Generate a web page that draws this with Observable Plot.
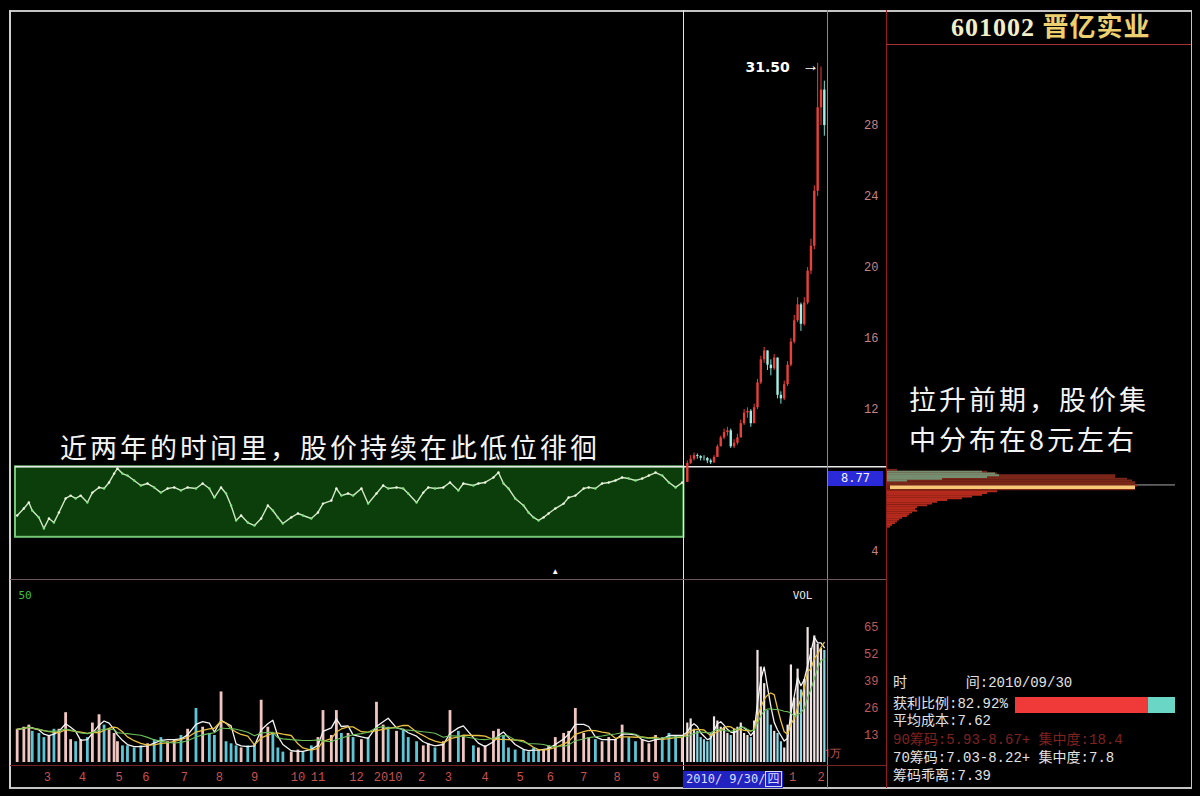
<!DOCTYPE html>
<html><head><meta charset="utf-8">
<script src="https://cdn.jsdelivr.net/npm/d3@7"></script>
<script src="https://cdn.jsdelivr.net/npm/@observablehq/plot@0.6"></script>
<style>
html,body{margin:0;padding:0;background:#000;}
#wrap{position:relative;width:1200px;height:796px;background:#000;overflow:hidden;font-family:"Noto Sans CJK SC",sans-serif;}
#wrap svg{position:absolute;left:0;top:0;}
.ln{position:absolute;}
.txt{position:absolute;white-space:pre;line-height:1;}
.ann{color:#f4f4f4;font-size:27px;letter-spacing:3px;font-family:"Noto Sans CJK SC",sans-serif;}
.info{font-family:"Liberation Mono","Noto Sans CJK SC",monospace;font-size:14px;color:#e2e2e2;left:893px;}
</style></head><body><div id="wrap"></div>
<script>
// ---------- data ----------
const leftDay = [1,5,8,10,14,17,20,23,26,30,33,36,39,43,46,50,53,56,59,61,64,67,71,75,79,83,87,91,95,99,103,108,112,116,119,123,126,129,132,135,139,143,147,151,154,157,160,165,169,172,177,181,184,189,192,195,199,
202,207,211,216,220,223,228,232,235,240,244,247,251,256,260,265,268,274,277,281,286,289,292,295,299,304,307,310,313,316,319,323,328,331,335,340,343,347,351,355,359,363,367,371,375,379,383,387,391,395,399];
const leftClose = [6.03,6.42,6.76,6.31,5.92,5.30,5.86,5.63,6.20,6.99,7.15,6.99,7.15,6.76,7.32,7.61,7.55,7.89,8.39,8.68,8.39,8.28,8.00,7.72,7.83,7.61,7.32,7.55,7.61,7.44,7.61,7.55,7.83,7.55,7.04,7.61,7.27,6.59,5.75,6.03,5.63,5.46,5.86,6.59,6.31,5.92,5.58,5.92,6.14,6.03,5.86,6.20,6.70,6.87,7.55,7.15,7.27,
7.15,7.55,6.70,7.27,7.72,7.55,7.61,7.55,7.27,6.76,7.32,7.61,7.55,7.61,7.89,7.44,7.83,7.72,7.83,7.89,8.17,8.45,7.83,7.55,6.99,6.59,6.20,5.92,5.75,5.92,6.14,6.42,6.70,7.04,7.15,7.55,7.61,7.55,7.83,7.89,8.00,8.17,8.11,8.00,8.11,8.28,8.45,8.28,7.89,7.61,7.89];
const leftVol = [16,17,18,15,14,12,13,16,16,24,11,10,11,12,19,23,18,16,14,10,8,8,7,8,9,11,12,10,11,13,16,26,17,14,13,34,10,9,8,7,8,9,30,17,14,7,5,5,6,5,8,12,25,13,25,14,14,
12,11,12,29,18,17,15,16,12,10,8,9,7,10,25,15,13,8,7,8,15,16,13,7,6,6,5,7,6,6,8,12,14,15,26,14,12,11,10,12,11,18,12,10,11,9,13,12,14,13,12];

const rallyDay = [402,404,406,408,410,412,414,416,418,420,422,424,426,428,430,432,434,436,438,440,442,444,446,448,450,452,454,456,458,460,462,464,466,468,470,472,474,476,478,480,482,484];
const rallyClose = [8.96,9.2,9.4,9.35,9.25,9.24,9.1,9.0,9.3,9.9,10.4,10.7,10.8,9.9,10.1,10.4,11.2,11.8,11.9,11.2,12.1,13.5,14.8,15.3,14.5,14.3,14.9,12.8,12.6,13.4,14.5,15.8,17.0,17.9,16.8,18.0,19.8,21.2,24.3,29.0,30.0,28.0];
const rallyHigh = [9.1,9.4,9.55,9.5,9.4,9.4,9.3,9.2,9.4,10.0,10.5,10.9,11.0,10.9,10.3,10.6,11.4,12.0,12.1,12.0,12.3,13.7,15.0,15.5,15.3,14.8,15.1,14.9,13.0,13.6,14.7,16.0,17.3,18.3,18.0,18.3,20.0,21.6,24.6,31.5,31.3,30.5];
const rallyLow = [8.6,8.9,9.1,9.2,9.1,9.1,8.95,8.9,8.95,9.3,9.9,10.3,10.5,9.8,9.8,10.0,10.4,11.1,11.5,11.0,11.2,12.0,13.4,14.6,14.2,13.9,14.2,12.6,12.3,12.5,13.3,14.4,15.7,16.9,16.4,16.7,17.9,19.6,21.0,24.0,28.0,27.4];
const rallyVol = [19,21,16,15,12,11,10,14,22,20,17,17,14,13,16,17,19,14,13,12,20,54,46,38,25,18,15,14,10,7,18,47,31,45,35,40,65,55,61,57,55,54];

const monthLabels = ["3","4","5","6","7","8","9","10","11","12","2010","2","3","4","5","6","7","8","9","1","2"];
const monthDays = [19,40,62,78,101,122,143,169,181,204,223,243,259,281,302,320,340,360,383,465,482];
const priceTicks = [4,12,16,20,24,28];
const volTicks = [13,26,39,52,65];

const lastPrice = 8.77;          // price line / label
const selectedDay = 400;         // 2010/09/30
const boxTop = 8.77, boxBottom = 4.8, boxStart = 0, boxEnd = 400;

const chipPrice = [8.6,8.5,8.4,8.3,8.2,8.1,8.0,7.9,7.8,7.7,7.6,7.5,7.4,7.3,7.2,7.1,7.0,6.9,6.8,6.7,6.6,6.5,6.4,6.3,6.2,6.1,6.0,5.9,5.8,5.7,5.6,5.5,5.4];
const chipAmount = [10,100,110,228,228,240,245,248,248,250,248,248,110,100,95,85,75,60,50,45,40,30,28,30,25,22,20,15,12,10,8,5,3];
const recentPrice = [8.5,8.4,8.3,8.2,8.1,8.0];
const recentAmount = [95,108,112,100,55,20];
const farPrice = [7.75], farAmount = [288];
const avgCost = 7.62;
const profitRatio = [82.92, 17.08];

// ---------- build ----------
const wrap = document.getElementById("wrap");
const W = 1200, H = 796;
const xDomain = [0, 521.2];
const priceDomain = [2.366, 34.37];

const left = leftDay.map((d,i)=>({day:d, close:leftClose[i], vol:leftVol[i], up: i===0 ? true : leftClose[i] >= leftClose[i-1]}));
const rally = rallyDay.map((d,i)=>{
  const open = i===0 ? leftClose[leftClose.length-1] : rallyClose[i-1];
  return {day:d, open, close:rallyClose[i], high:rallyHigh[i], low:rallyLow[i], vol:rallyVol[i], up: rallyClose[i] >= open};
});
const all = left.concat(rally);
const monthTicks = monthDays.map((d,i)=>({day:d, label:monthLabels[i]}));
const chips = chipPrice.map((p,i)=>({price:p, amount:chipAmount[i]}));
const recent = recentPrice.map((p,i)=>({price:p, amount:recentAmount[i]}));
const far = farPrice.map((p,i)=>({price:p, amount:farAmount[i]}));
const peak = d3.greatest(rally, d=>d.high);

const base = {width:W, height:H, marginLeft:15, marginRight:314, style:{background:"transparent", overflow:"visible"}, color:{type:"identity"}};

const pricePlot = Plot.plot({
  ...base, marginTop:12, marginBottom:216,
  x:{domain:xDomain, axis:null},
  y:{domain:priceDomain, axis:null},
  marks:[
    Plot.rect([{x1:boxStart,x2:boxEnd,y1:boxBottom,y2:boxTop}],{x1:"x1",x2:"x2",y1:"y1",y2:"y2",fill:"#0c3e0c",stroke:"#74c874",strokeWidth:2}),
    Plot.line(left,{x:"day",y:"close",stroke:"#cfeac2",strokeWidth:1.4}),
    Plot.dot(left,{x:"day",y:"close",r:1.2,fill:d=>d.up?"#f4f4e6":"#7ee07e",stroke:null}),
    Plot.ruleY([lastPrice],{stroke:"#e8e8e8",strokeWidth:1.5}),
    Plot.ruleX(rally,{x:"day",y1:"low",y2:"high",stroke:d=>d.up?"#e8403a":"#7fe0d4",strokeWidth:1}),
    Plot.ruleX(rally,{x:"day",y1:"open",y2:"close",stroke:d=>d.up?"#e8403a":"#9ff0e6",strokeWidth:2.4}),
    Plot.text([peak],{x:"day",y:"high",text:d=>d.high.toFixed(2),dx:-50,dy:4,fill:"#ffffff",fontSize:14,fontWeight:"bold",fontFamily:"DejaVu Sans"}),
    Plot.text([peak],{x:"day",y:"high",text:()=>"→",dx:-7,dy:2,fill:"#ffffff",fontSize:17}),
    Plot.text(priceTicks,{y:d=>d,text:d=>String(d),frameAnchor:"right",textAnchor:"end",dx:-8,fill:"#c48484",fontSize:12,fontFamily:"Liberation Mono"}),
    Plot.text(["▲"],{x:()=>323,frameAnchor:"bottom",dy:-7,text:d=>d,fill:"#ffffff",fontSize:8})
  ]
});
wrap.appendChild(pricePlot);

const volPlot = Plot.plot({
  ...base, marginTop:581, marginBottom:34,
  x:{domain:xDomain, axis:null},
  y:{domain:[0,87.2], axis:null},
  marks:[
    Plot.ruleX(left,{x:"day",y1:0,y2:"vol",stroke:d=>d.up?"#f2c6c0":"#5cc6d6",strokeWidth:2.8}),
    Plot.ruleX(rally,{x:"day",y1:0,y2:"vol",stroke:d=>d.up?"#f0e4e4":"#8ad8e8",strokeWidth:2.2}),
    Plot.lineY(all, Plot.windowY({k:3, anchor:"end"}, {x:"day", y:"vol", stroke:"#f4f4f4", strokeWidth:1.3})),
    Plot.lineY(all, Plot.windowY({k:6, anchor:"end"}, {x:"day", y:"vol", stroke:"#e8c040", strokeWidth:1.3})),
    Plot.lineY(all, Plot.windowY({k:10, anchor:"end"}, {x:"day", y:"vol", stroke:"#6abf5a", strokeWidth:1.1})),
    Plot.text(volTicks,{y:d=>d,text:d=>String(d),frameAnchor:"right",textAnchor:"end",dx:-8,fill:"#c05858",fontSize:12,fontFamily:"Liberation Mono"}),
    Plot.text(monthTicks,{x:"day",text:"label",frameAnchor:"bottom",dy:18,fill:"#c85050",fontSize:12,fontFamily:"Liberation Mono"}),
    Plot.text(["VOL"],{frameAnchor:"top-right",dx:-74,dy:10,text:d=>d,fill:"#e8e8e8",fontSize:11,fontFamily:"DejaVu Sans Mono"}),
    Plot.text(["50"],{frameAnchor:"top-left",dx:3,dy:10,text:d=>d,fill:"#3fc03f",fontSize:11,textAnchor:"start",fontFamily:"DejaVu Sans Mono"}),
    Plot.text(["1万"],{frameAnchor:"bottom-right",dx:-45,dy:-6,text:d=>d,fill:"#c05858",fontSize:11})
  ]
});
wrap.appendChild(volPlot);

const chipPlot = Plot.plot({
  width:W, height:H, marginLeft:887, marginRight:10, marginTop:12, marginBottom:216,
  style:{background:"transparent", overflow:"visible"}, color:{type:"identity"},
  x:{domain:[0,303], axis:null},
  y:{domain:priceDomain, axis:null},
  marks:[
    Plot.ruleY(far,{y:"price",x1:0,x2:"amount",stroke:"#a8a8a8",strokeWidth:1}),
    Plot.ruleY(chips,{y:"price",x1:0,x2:"amount",stroke:d=>d.price>=7.45?"#7a2618":"#b42a1c",strokeWidth:1.95}),
    Plot.ruleY(recent,{y:"price",x1:0,x2:"amount",stroke:"#768e70",strokeWidth:1.95}),
    Plot.ruleY([avgCost],{y:d=>d,x1:()=>3,x2:()=>chips.find(c=>Math.abs(c.price-7.6)<0.01).amount,stroke:"#f6c878",strokeWidth:3.5})
  ]
});
wrap.appendChild(chipPlot);

const profitPlot = Plot.plot({
  width:W, height:H, marginLeft:1015, marginRight:25, marginTop:697, marginBottom:83,
  style:{background:"transparent", overflow:"visible"}, color:{type:"identity"},
  x:{domain:[0,100], axis:null},
  marks:[
    Plot.barX(profitRatio.map((v,i)=>({v,k:i})),{x:"v",fill:d=>d.k===0?"#f03a3a":"#6ad6c6"})
  ]
});
wrap.appendChild(profitPlot);

// ---------- decorations (frame lines, labels) ----------
function line(l,t,w,h,c){const e=document.createElement("div");e.className="ln";Object.assign(e.style,{left:l+"px",top:t+"px",width:w+"px",height:h+"px",background:c});wrap.appendChild(e);}
function txt(l,t,html,cls,extra){const e=document.createElement("div");e.className="txt "+(cls||"");e.style.left=l+"px";e.style.top=t+"px";e.innerHTML=html;if(extra)Object.assign(e.style,extra);wrap.appendChild(e);return e;}
line(9,10,1183,1.5,"#c4c4c4");
line(9,787,1183,1.5,"#c4c4c4");
line(9,10,1.5,778,"#d0d0d0");
line(1190.5,10,1.5,778,"#c4c4c4");
line(682.5,10,1.5,760,"#e6e6e6");
line(826.5,10,1.5,778,"#9a8080");
line(885.5,10,1.5,778,"#961c1c");
line(10,579,876,1,"#6e5a5a");
line(10,765,876,1,"#742424");
line(886,44,305,1,"#a43232");

txt(951,15,'<span style="color:#f2eec8">601002</span> <span style="color:#ecd070">晋亿实业</span>','',{fontFamily:'"Liberation Serif","Noto Sans CJK SC",serif',fontSize:"26px",fontWeight:"bold",letterSpacing:"1px"});

txt(60,433,"近两年的时间里，股价持续在此低位徘徊","ann");
txt(909,379,"拉升前期，股价集<br>中分布在8元左右","ann",{lineHeight:"39.5px",whiteSpace:"normal",width:"270px"});

txt(828,471,"8.77","",{width:"55px",height:"15px",background:"#2a2ad8",color:"#f0f0ff",fontSize:"12px",fontFamily:'"DejaVu Sans Mono",monospace',textAlign:"center",lineHeight:"15px"});
txt(683,771,'2010/ 9/30/<span style="border:1px solid #d8d8ff;padding:0 1px">四</span>',"",{width:"100px",height:"17px",background:"#2222c0",color:"#dcdcff",fontSize:"12px",fontFamily:'"DejaVu Sans Mono","Noto Sans CJK SC",monospace',lineHeight:"17px",paddingLeft:"3px",boxSizing:"border-box"});

txt(893,676,"时       间:2010/09/30","info");
txt(893,697,"获利比例:82.92%","info");
txt(893,714,"平均成本:7.62","info");
txt(893,733,"90筹码:5.93-8.67+ 集中度:18.4","info",{color:"#7e2222"});
txt(893,751,"70筹码:7.03-8.22+ 集中度:7.8","info");
txt(893,769,"筹码乖离:7.39","info");
</script></body></html>
